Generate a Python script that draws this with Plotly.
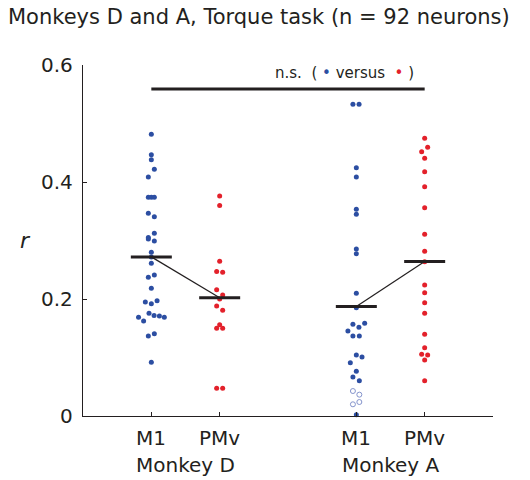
import plotly.graph_objects as go

# Correlation (r) per neuron, grouped by monkey and area
groups = ["M1", "PMv", "M1", "PMv"]
monkeys = ["Monkey D", "Monkey A"]
group_x = [1, 2, 4, 5]

m1_d = [0.4815, 0.4467, 0.438, 0.4217, 0.4085, 0.374, 0.374, 0.374, 0.3465, 0.3407,
        0.3123, 0.305, 0.3026, 0.299, 0.2798, 0.272, 0.261, 0.237, 0.241, 0.2182,
        0.1949, 0.192, 0.197, 0.1755, 0.172, 0.171, 0.1687, 0.1687, 0.1624, 0.1368,
        0.1407, 0.0918]
m1_d_jitter = [0, 0, 0, 0.044, -0.044, -0.044, 0, 0.044, -0.044, 0.044,
               0.044, -0.044, -0.044, 0.044, 0, 0, 0, -0.044, 0.044, 0,
               -0.088, 0, 0.084, -0.034, 0.04, 0.118, 0.19, -0.187, -0.113, -0.044,
               0.044, 0]

pmv_d = [0.376, 0.360, 0.2644, 0.247, 0.2456, 0.216, 0.2068, 0.200, 0.188, 0.1806,
         0.156, 0.150, 0.150, 0.0473, 0.0473]
pmv_d_jitter = [0, 0, 0, -0.044, 0.044, -0.044, 0.044, 0, -0.044, 0.044,
                0, -0.044, 0.044, -0.044, 0.044]

m1_a = [0.533, 0.533, 0.4245, 0.4085, 0.3533, 0.3448, 0.2855, 0.2774, 0.2097, 0.1851,
        0.1585, 0.1567, 0.1516, 0.1453, 0.1368, 0.1368, 0.1043, 0.1009, 0.0912, 0.0764,
        0.0667, 0.0604, 0.002]
m1_a_jitter = [-0.05, 0.04, 0, 0, 0, 0, 0, 0, 0, 0,
               0.122, -0.05, 0.038, -0.123, -0.05, 0.044, 0, 0.083, -0.088, 0,
               -0.05, 0.044, 0]
# negative correlations, plotted as magnitudes
m1_a_neg = [0.0427, 0.0365, 0.0239, 0.020]
m1_a_neg_jitter = [-0.05, 0.044, 0.044, -0.05]

pmv_a = [0.4747, 0.4593, 0.4518, 0.4405, 0.4177, 0.392, 0.356, 0.3106, 0.2815, 0.2638,
         0.2239, 0.2108, 0.1937, 0.1755, 0.1396, 0.1168, 0.1054, 0.1043, 0.0957, 0.0604]
pmv_a_jitter = [0, 0.044, -0.044, 0, 0, 0, 0, 0, 0, 0,
                0, 0, 0, 0, 0, 0, -0.044, 0.044, 0, 0]

group_means = [0.272, 0.202, 0.187, 0.264]
sig_bar_y = 0.559
sig_bar_x = [1, 5]

y_ticks = [0, 0.2, 0.4, 0.6]
y_tick_text = ["0", "0.2", "0.4", "0.6"]

BLUE = "#2c4ea2"
RED = "#e3212b"
OPEN_BLUE = "#8594cc"
INK = "#231f20"
FONT = "DejaVu Sans"

fig = go.Figure()


def add_points(cx, vals, jit, color, symbol="circle"):
    fig.add_trace(go.Scatter(
        x=[cx + j for j in jit], y=vals, mode="markers",
        marker=dict(size=5, color=color, symbol=symbol,
                    line=dict(width=1, color=color) if symbol != "circle" else dict(width=0)),
        cliponaxis=False, showlegend=False, hoverinfo="y"))


add_points(group_x[0], m1_d, m1_d_jitter, BLUE)
add_points(group_x[1], pmv_d, pmv_d_jitter, RED)
add_points(group_x[2], m1_a, m1_a_jitter, BLUE)
add_points(group_x[2], m1_a_neg, m1_a_neg_jitter, OPEN_BLUE, "circle-open")
add_points(group_x[3], pmv_a, pmv_a_jitter, RED)

# thin lines joining the M1 and PMv means within each monkey
for a, b in [(0, 1), (2, 3)]:
    fig.add_trace(go.Scatter(
        x=[group_x[a], group_x[b]], y=[group_means[a], group_means[b]],
        mode="lines", line=dict(color=INK, width=1.2),
        showlegend=False, hoverinfo="skip"))

# thick mean bars
for cx, m in zip(group_x, group_means):
    fig.add_trace(go.Scatter(
        x=[cx - 0.3, cx + 0.3], y=[m, m], mode="lines",
        line=dict(color=INK, width=3), showlegend=False, hoverinfo="skip"))

# comparison bar across M1 of both monkeys
fig.add_trace(go.Scatter(
    x=sig_bar_x, y=[sig_bar_y, sig_bar_y], mode="lines",
    line=dict(color=INK, width=3), showlegend=False, hoverinfo="skip"))

sp = "\u00a0"
ns_text = (f"n.s.{sp*2}({sp}<span style='color:{BLUE}'>•</span>{sp}versus{sp*2}"
           f"<span style='color:{RED}'>•</span>{sp})")

annotations = [
    dict(text="Monkeys D and A, Torque task (n = 92 neurons)", xref="paper", yref="paper",
         x=0.43, y=1, yshift=48, xanchor="center", yanchor="middle", showarrow=False,
         font=dict(size=21, color=INK, family=FONT)),
    dict(text=ns_text, xref="x", yref="y", x=3.83, y=0.586, xanchor="center",
         yanchor="middle", showarrow=False, font=dict(size=15, color=INK, family=FONT)),
    dict(text="<i>r</i>", xref="paper", yref="y", x=0, xshift=-58, y=0.30,
         xanchor="center", yanchor="middle", showarrow=False,
         font=dict(size=22, color=INK, family=FONT)),
]
for cx, g in zip(group_x, groups):
    annotations.append(dict(text=g, xref="x", yref="paper", x=cx, y=0, yshift=-22,
                            xanchor="center", yanchor="middle", showarrow=False,
                            font=dict(size=20, color=INK, family=FONT)))
for cx, mk in zip([1.5, 4.5], monkeys):
    annotations.append(dict(text=mk, xref="x", yref="paper", x=cx, y=0, yshift=-49,
                            xanchor="center", yanchor="middle", showarrow=False,
                            font=dict(size=20, color=INK, family=FONT)))

fig.update_layout(
    width=530, height=480,
    margin=dict(l=83, r=37, t=65, b=64),
    paper_bgcolor="white", plot_bgcolor="white",
    font=dict(family=FONT, color=INK),
    annotations=annotations,
    xaxis=dict(range=[0, 6], tickvals=group_x, showticklabels=False,
               ticks="inside", ticklen=4, tickcolor=INK, tickwidth=1.3,
               showline=True, linecolor=INK, linewidth=1.3,
               showgrid=False, zeroline=False),
    yaxis=dict(range=[0, 0.6], tickvals=y_ticks, ticktext=y_tick_text,
               ticks="inside", ticklen=4, tickcolor=INK, tickwidth=1.3,
               showline=True, linecolor=INK, linewidth=1.3,
               showgrid=False, zeroline=False,
               tickfont=dict(size=20, color=INK, family=FONT), ticklabelstandoff=5),
)

fig.write_html("out.html")
